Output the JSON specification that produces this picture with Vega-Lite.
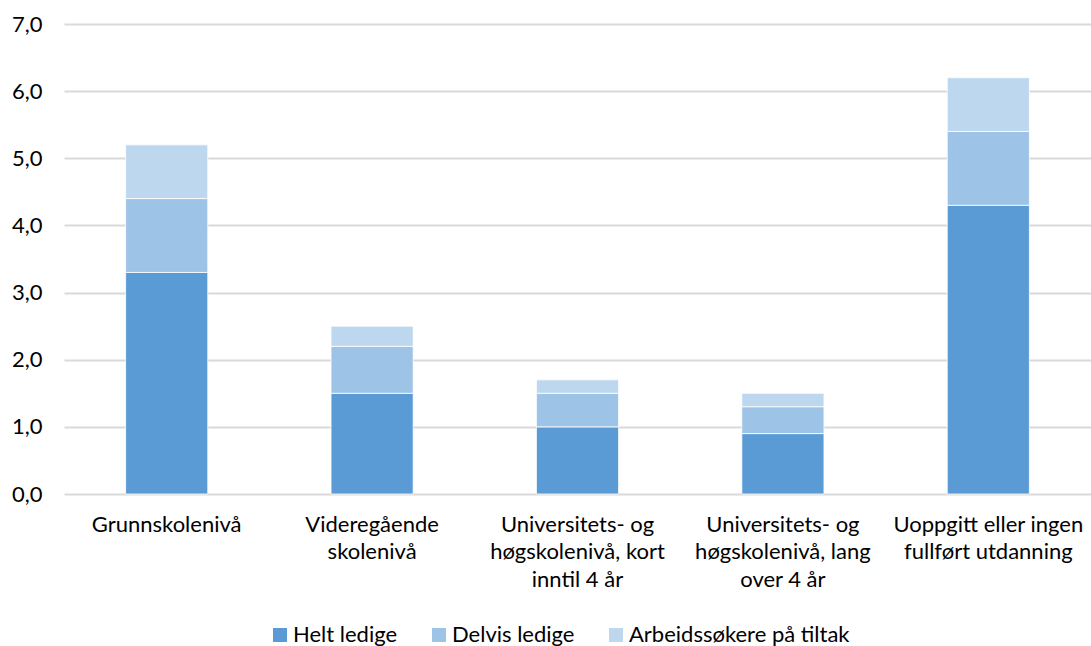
{
  "$schema": "https://vega.github.io/schema/vega-lite/v6.json",
  "width": 1027,
  "height": 470,
  "autosize": {"type": "none"},
  "padding": {"left": 64, "top": 24, "right": 0, "bottom": 152},
  "background": "white",
  "config": {
    "view": {"stroke": null},
    "font": "Lato",
    "axis": {"labelFont": "Lato", "labelColor": "#000000", "labelFontSize": 22}
  },
  "data": {
    "values": [
      {"kategori": "Grunnskolenivå", "serie": "Helt ledige", "rekkefolge": 1, "verdi": 3.3},
      {"kategori": "Grunnskolenivå", "serie": "Delvis ledige", "rekkefolge": 2, "verdi": 1.1},
      {"kategori": "Grunnskolenivå", "serie": "Arbeidssøkere på tiltak", "rekkefolge": 3, "verdi": 0.8},
      {"kategori": "Videregående|skolenivå", "serie": "Helt ledige", "rekkefolge": 1, "verdi": 1.5},
      {"kategori": "Videregående|skolenivå", "serie": "Delvis ledige", "rekkefolge": 2, "verdi": 0.7},
      {"kategori": "Videregående|skolenivå", "serie": "Arbeidssøkere på tiltak", "rekkefolge": 3, "verdi": 0.3},
      {"kategori": "Universitets- og|høgskolenivå, kort|inntil 4 år", "serie": "Helt ledige", "rekkefolge": 1, "verdi": 1.0},
      {"kategori": "Universitets- og|høgskolenivå, kort|inntil 4 år", "serie": "Delvis ledige", "rekkefolge": 2, "verdi": 0.5},
      {"kategori": "Universitets- og|høgskolenivå, kort|inntil 4 år", "serie": "Arbeidssøkere på tiltak", "rekkefolge": 3, "verdi": 0.2},
      {"kategori": "Universitets- og|høgskolenivå, lang|over 4 år", "serie": "Helt ledige", "rekkefolge": 1, "verdi": 0.9},
      {"kategori": "Universitets- og|høgskolenivå, lang|over 4 år", "serie": "Delvis ledige", "rekkefolge": 2, "verdi": 0.4},
      {"kategori": "Universitets- og|høgskolenivå, lang|over 4 år", "serie": "Arbeidssøkere på tiltak", "rekkefolge": 3, "verdi": 0.2},
      {"kategori": "Uoppgitt eller ingen|fullført utdanning", "serie": "Helt ledige", "rekkefolge": 1, "verdi": 4.3},
      {"kategori": "Uoppgitt eller ingen|fullført utdanning", "serie": "Delvis ledige", "rekkefolge": 2, "verdi": 1.1},
      {"kategori": "Uoppgitt eller ingen|fullført utdanning", "serie": "Arbeidssøkere på tiltak", "rekkefolge": 3, "verdi": 0.8}
    ]
  },
  "mark": {"type": "bar", "stroke": "white", "strokeWidth": 0.8},
  "encoding": {
    "x": {
      "field": "kategori",
      "type": "nominal",
      "sort": null,
      "scale": {"paddingInner": 0.6, "paddingOuter": 0.3},
      "axis": {
        "title": null,
        "labelAngle": 0,
        "labelExpr": "split(datum.label, '|')",
        "labelLineHeight": 27.5,
        "labelPadding": 20,
        "labelBaseline": "top",
        "labelLimit": 300,
        "ticks": false,
        "domain": false
      }
    },
    "y": {
      "field": "verdi",
      "type": "quantitative",
      "stack": "zero",
      "scale": {"domain": [0, 7], "nice": false},
      "axis": {
        "title": null,
        "values": [0, 1, 2, 3, 4, 5, 6, 7],
        "labelExpr": "replace(format(datum.value, '.1f'), '.', ',')",
        "labelPadding": 22,
        "ticks": false,
        "domain": false,
        "gridColor": "#d9d9d9",
        "gridWidth": 2
      }
    },
    "color": {
      "field": "serie",
      "type": "nominal",
      "sort": ["Helt ledige", "Delvis ledige", "Arbeidssøkere på tiltak"],
      "scale": {
        "domain": ["Helt ledige", "Delvis ledige", "Arbeidssøkere på tiltak"],
        "range": ["#5b9bd5", "#9dc3e6", "#bdd7ee"]
      },
      "legend": {
        "title": null,
        "orient": "none",
        "direction": "horizontal",
        "legendX": 205,
        "legendY": 600,
        "symbolType": "square",
        "symbolSize": 196,
        "symbolStrokeWidth": 0,
        "labelFont": "Lato",
        "labelFontSize": 22,
        "labelColor": "#000000",
        "labelLimit": 400,
        "labelOffset": 2,
        "columnPadding": 30
      }
    },
    "order": {"field": "rekkefolge", "type": "quantitative"}
  }
}
